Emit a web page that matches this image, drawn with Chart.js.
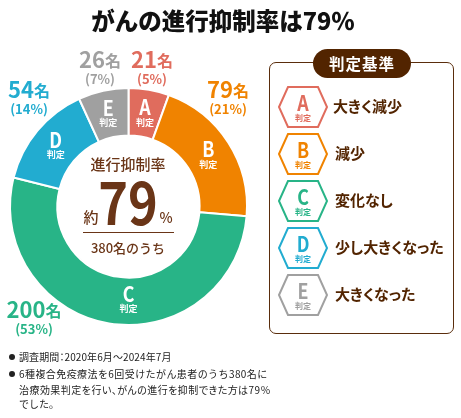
<!DOCTYPE html>
<html lang="ja">
<head>
<meta charset="utf-8">
<script src="https://cdn.jsdelivr.net/npm/chart.js@4"></script>
<style>
  html, body { margin: 0; padding: 0; background: #fff; }
  body { width: 461px; height: 418px; position: relative; overflow: hidden;
         font-family: "Noto Sans CJK JP", sans-serif; font-weight: 700; color: #522400; }
  canvas { position: absolute; left: 0; top: 0; }
  h1 { position: absolute; left: 0; top: 5px; width: 446px; margin: 0; text-align: center;
       font-size: 23.5px; line-height: 30px; color: #111; font-weight: 900; }
  .box { position: absolute; left: 269px; top: 62px; width: 183px; height: 270px;
         border: 1.5px solid #5a2d0c; border-radius: 7px; box-sizing: content-box; }
  .pill { position: absolute; left: 313px; top: 49px; width: 98px; height: 29px; border-radius: 15px;
          background: #522400; color: #fff; font-size: 15.5px; line-height: 28px; text-align: center; letter-spacing: 1px; }
  .hex { position: absolute; left: 277px; width: 52px; height: 44px; }
  .ltext { position: absolute; font-size: 15px; line-height: 20px; white-space: nowrap; font-feature-settings: "palt"; }
  .note { position: absolute; left: 19px; font-size: 10px; line-height: 14px; color: #222; font-weight: 400; white-space: nowrap; }
  .dot { position: absolute; left: 9px; width: 6px; height: 6px; border-radius: 50%; background: #222; }
</style>
</head>
<body>
<canvas id="chart" width="461" height="418"></canvas>
<h1>がんの進行抑制率は79％</h1>
<div class="box"></div>
<div class="pill">判定基準</div>
<div id="legend"></div>
<div class="dot" style="top:354px"></div>
<div class="note" style="top:350px;font-feature-settings:'palt';letter-spacing:.1px">調査期間：2020年6月～2024年7月</div>
<div class="dot" style="top:371px"></div>
<div class="note" style="top:367px;letter-spacing:.42px">6種複合免疫療法を6回受けたがん患者のうち380名に</div>
<div class="note" style="top:383px;font-feature-settings:'palt';letter-spacing:.45px">治療効果判定を行い、がんの進行を抑制できた方は79％</div>
<div class="note" style="top:397px">でした。</div>
<script>
const grades = ["A", "B", "C", "D", "E"];
const counts = [21, 79, 200, 54, 26];
const percents = [5, 21, 53, 14, 7];
const colors = ["#e06c5d", "#f08300", "#28b487", "#22acd0", "#a0a0a0"];
const meanings = ["大きく減少", "減少", "変化なし", "少し大きくなった", "大きくなった"];

// where the "21名 (5%)" captions sit, by grade
const captionPos = [[152, 60], [228, 90], [34, 310], [29, 90], [100, 60]];
const BROWN = "#6a3517";
const FONT = '"Noto Sans CJK JP", sans-serif';

function drawCount(ctx, n, x, y, color) {
  const num = String(n);
  ctx.fillStyle = color;
  ctx.textBaseline = "middle";
  ctx.textAlign = "left";
  ctx.font = "700 22px " + FONT;
  const w1 = ctx.measureText(num).width;
  ctx.font = "700 16px " + FONT;
  const w2 = ctx.measureText("名").width;
  const left = x - (w1 + w2) / 2;
  ctx.font = "700 22px " + FONT;
  ctx.fillText(num, left, y);
  ctx.font = "700 16px " + FONT;
  ctx.fillText("名", left + w1, y + 1);
}

// the reference's latin letters and big digits are narrower than the font
function drawNarrow(ctx, text, x, y, font, sx) {
  ctx.save();
  ctx.translate(x, y);
  ctx.scale(sx, 1);
  ctx.font = font;
  ctx.fillText(text, 0, 0);
  ctx.restore();
}

const labelsPlugin = {
  id: "labels",
  afterDraw(chart) {
    const ctx = chart.ctx;
    const arcs = chart.getDatasetMeta(0).data;
    ctx.save();
    arcs.forEach((arc, i) => {
      const p = arc.getCenterPoint();
      // C sits under the hole's centre, not at its slice's middle
      const x = grades[i] === "C" ? arc.x : p.x;
      ctx.fillStyle = "#fff";
      ctx.textAlign = "center";
      ctx.textBaseline = "middle";
      drawNarrow(ctx, grades[i], x, p.y - 6, "700 21px " + FONT, 0.85);
      ctx.font = "700 9px " + FONT;
      ctx.fillText("判定", x, p.y + 9);

      const c = captionPos[i];
      drawCount(ctx, counts[i], c[0], c[1], colors[i]);
      ctx.fillStyle = colors[i];
      ctx.textAlign = "center";
      ctx.font = "700 13px " + FONT;
      ctx.fillText("(" + percents[i] + "%)", c[0], c[1] + 19);
    });

    ctx.fillStyle = BROWN;
    ctx.textAlign = "center";
    ctx.textBaseline = "middle";
    ctx.font = "500 15px " + FONT;
    ctx.fillText("進行抑制率", 128, 164);
    drawNarrow(ctx, "79", 128, 203, "700 58px " + FONT, 0.87);
    ctx.font = "500 15px " + FONT;
    ctx.fillText("約", 91, 217);
    ctx.font = "500 14px " + FONT;
    ctx.fillText("%", 166, 218);
    ctx.font = "500 13px " + FONT;
    ctx.fillText("380名のうち", 128, 248);
    ctx.strokeStyle = BROWN;
    ctx.lineWidth = 1;
    ctx.beginPath();
    ctx.moveTo(83, 232.5);
    ctx.lineTo(174, 232.5);
    ctx.stroke();
    ctx.restore();
  }
};

new Chart(document.getElementById("chart"), {
  type: "doughnut",
  data: {
    labels: grades,
    datasets: [{
      data: counts,
      backgroundColor: colors,
      borderColor: "#fff",
      borderWidth: 2
    }]
  },
  options: {
    responsive: false,
    animation: false,
    cutout: "60%",
    layout: { padding: { left: 9, right: 213, top: 87, bottom: 92 } },
    plugins: { legend: { display: false }, tooltip: { enabled: false } }
  },
  plugins: [labelsPlugin]
});

// the grade key on the right
const legend = document.getElementById("legend");
grades.forEach((g, i) => {
  const top = 85 + i * 47;
  legend.insertAdjacentHTML("beforeend",
    `<svg class="hex" style="top:${top}px" viewBox="0 0 52 44">
       <polygon points="2,22 11,2 41,2 50,22 41,42 11,42" fill="#fff" stroke="${colors[i]}" stroke-width="2"/>
       <text transform="translate(26 26) scale(.85 1)" text-anchor="middle" font-size="21" font-weight="700" fill="${colors[i]}">${g}</text>
       <text x="26" y="36" text-anchor="middle" font-size="8" font-weight="700" fill="${colors[i]}">判定</text>
     </svg>
     <div class="ltext" style="left:${i === 0 ? 333 : 335}px;top:${top + 11}px">${meanings[i]}</div>`);
});
</script>
</body>
</html>
